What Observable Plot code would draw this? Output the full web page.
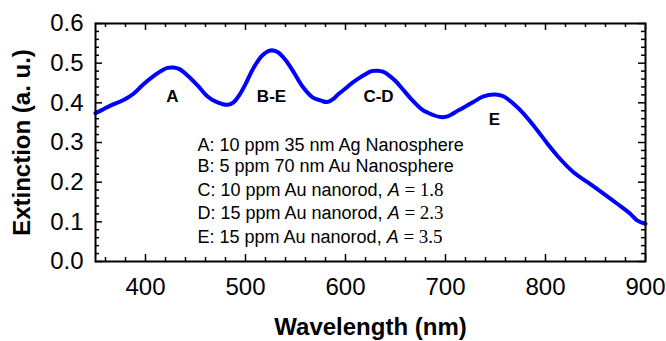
<!DOCTYPE html>
<html><head><meta charset="utf-8">
<script src="https://cdn.jsdelivr.net/npm/d3@7"></script>
<script src="https://cdn.jsdelivr.net/npm/@observablehq/plot@0.6"></script>
<style>body{margin:0;background:#fff}</style>
</head><body><div id="chart"></div>
<script>
const wavelength = [350,358,365,378,388,398,410,416,422,428,434,442,452,462,472,482,488,494,500,508,517,525,532,540,548,557,567,575,582,588,593,600,607,614,620,626,632,638,644,650,657,667,677,687,695,702,713,727,738,748,756,762,770,775,788,802,812,828,842,858,872,885,892,900];
const extinction = [0.374,0.384,0.393,0.407,0.423,0.447,0.471,0.481,0.488,0.489,0.485,0.469,0.444,0.416,0.401,0.395,0.401,0.420,0.447,0.488,0.520,0.532,0.528,0.508,0.478,0.441,0.414,0.406,0.402,0.410,0.422,0.436,0.451,0.463,0.472,0.480,0.481,0.478,0.468,0.455,0.435,0.406,0.382,0.370,0.364,0.366,0.381,0.401,0.416,0.421,0.418,0.410,0.393,0.381,0.343,0.297,0.266,0.225,0.200,0.171,0.145,0.120,0.103,0.095];

const xTicks = [400,500,600,700,800,900];
const yTicks = [0,0.1,0.2,0.3,0.4,0.5,0.6];
const xMinorTicks = [360,380,420,440,460,480,520,540,560,580,620,640,660,680,720,740,760,780,820,840,860,880];
const yMinorTicks = [0.02,0.04,0.06,0.08,0.12,0.14,0.16,0.18,0.22,0.24,0.26,0.28,0.32,0.34,0.36,0.38,0.42,0.44,0.46,0.48,0.52,0.54,0.56,0.58];

const peakLabels = ["A","B-E","C-D","E"];
const peakX = [427,526,633,749];
const peakY = [0.417,0.417,0.417,0.358];

const legendLabels = ["A: 10 ppm 35 nm Ag Nanosphere","B: 5 ppm 70 nm Au Nanosphere","C: 10 ppm Au nanorod, ","D: 15 ppm Au nanorod, ","E: 15 ppm Au nanorod, "];
const legendAspect = [null,null,"1.8","2.3","3.5"];
const legendY = [0.292,0.239,0.179,0.121,0.061];
const legendX = 452;

const W = 666, H = 341, mL = 95, mR = 21, mT = 23, mB = 80;
const fw = W - mL - mR, fh = H - mT - mB;

const spectrum = wavelength.map((w, i) => ({w, e: extinction[i]}));
const peaks = peakLabels.map((t, i) => ({t, x: peakX[i], y: peakY[i]}));
const legend = legendLabels.map((t, i) => ({t, y: legendY[i]}));

const plot = Plot.plot({
  width: W, height: H,
  marginLeft: mL, marginRight: mR, marginTop: mT, marginBottom: mB,
  x: {domain: [350, 900]},
  y: {domain: [0, 0.6]},
  style: {fontFamily: "'Liberation Sans', Arial, sans-serif", background: "#fff"},
  marks: [
    Plot.tickX(xMinorTicks, {x: d => d, insetTop: fh - 4, strokeWidth: 1.5}),
    Plot.tickX(xMinorTicks, {x: d => d, insetBottom: fh - 4, strokeWidth: 1.5}),
    Plot.tickX(xTicks, {x: d => d, insetTop: fh - 7, strokeWidth: 1.5}),
    Plot.tickX(xTicks, {x: d => d, insetBottom: fh - 7, strokeWidth: 1.5}),
    Plot.tickY(yMinorTicks, {y: d => d, insetRight: fw - 4, strokeWidth: 1.5}),
    Plot.tickY(yMinorTicks, {y: d => d, insetLeft: fw - 4, strokeWidth: 1.5}),
    Plot.tickY(yTicks, {y: d => d, insetRight: fw - 7, strokeWidth: 1.5}),
    Plot.tickY(yTicks, {y: d => d, insetLeft: fw - 7, strokeWidth: 1.5}),
    Plot.axisX(xTicks, {tickSize: 0, tickPadding: 16, fontSize: 24, label: null, tickFormat: d => String(d)}),
    Plot.axisY(yTicks, {tickSize: 0, tickPadding: 12, fontSize: 24, label: null, tickFormat: d3.format(".1f")}),
    Plot.line(spectrum, {x: "w", y: "e", stroke: "#0000ff", strokeWidth: 4, curve: "catmull-rom"}),
    Plot.text(peaks, {x: "x", y: "y", text: "t", fontWeight: "bold", fontSize: 17}),
    Plot.text(legend, {x: () => legendX, y: "y", text: "t", textAnchor: "start", fontSize: 18, className: "legend-lines"}),
    Plot.text(["Wavelength (nm)"], {frameAnchor: "bottom", lineAnchor: "middle", dy: 66, fontWeight: "bold", fontSize: 24}),
    Plot.text(["Extinction (a. u.)"], {frameAnchor: "left", textAnchor: "middle", lineAnchor: "middle", rotate: -90, dx: -73.5, fontWeight: "bold", fontSize: 24}),
    Plot.frame({strokeWidth: 2})
  ]
});

d3.select(plot).selectAll(".legend-lines text").each(function(_, i) {
  const v = legendAspect[i];
  if (!v) return;
  const t = d3.select(this);
  t.append("tspan").attr("font-style", "italic").text("A");
  t.append("tspan").attr("font-family", "'Liberation Serif', 'Times New Roman', serif").attr("font-size", 19).text(" = " + v);
});

document.getElementById("chart").appendChild(plot);
</script>
</body></html>
